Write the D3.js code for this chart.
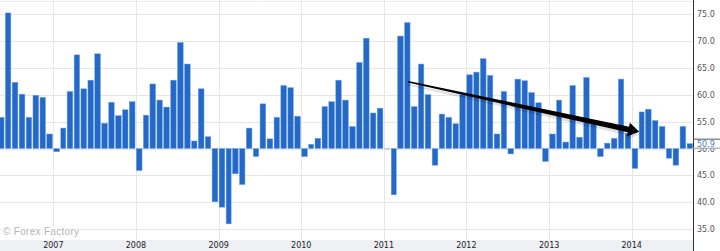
<!DOCTYPE html>
<html>
<head>
<meta charset="utf-8">
<script src="https://cdn.jsdelivr.net/npm/d3@7"></script>
<style>
  body { margin: 0; background: #fff; }
  svg { display: block; }
  text { font-family: "DejaVu Sans", sans-serif; }
</style>
</head>
<body>
<script>
// monthly readings, first bar is May 2006
var startYear = 2006, startMonth = 4;
var values = [
  55.8, 75.2, 62.3, 60.1, 55.8, 59.9, 59.5, 52.7,
  49.4, 53.8, 60.6, 67.4, 61.1, 62.7, 67.6, 54.7, 58.6, 56.1, 57.2, 58.7,
  45.9, 56.2, 62.0, 59.0, 57.7, 62.7, 69.7, 65.7, 51.4, 61.1, 52.2, 40.1,
  39.1, 36.0, 45.3, 43.3, 53.8, 48.5, 58.3, 51.8, 55.8, 61.7, 61.3, 56.0,
  48.5, 50.8, 51.9, 57.8, 58.7, 62.7, 59.0, 54.1, 66.0, 70.5, 56.6, 57.5,
  50.0, 41.4, 70.9, 73.4, 57.8, 65.7, 60.0, 46.9, 56.4, 55.8, 54.6, 60.0,
  63.7, 64.2, 66.7, 63.6, 52.7, 60.6, 49.0, 62.9, 62.6, 60.4, 58.5, 47.6,
  52.7, 59.0, 51.2, 61.7, 52.1, 63.2, 54.9, 48.5, 51.0, 51.9, 62.9, 52.8,
  46.3, 56.8, 57.3, 55.2, 54.1, 48.2, 46.9, 54.1, 50.9
];
var yTicks = [35, 40, 45, 50, 55, 60, 65, 70, 75];
var years = [2007, 2008, 2009, 2010, 2011, 2012, 2013, 2014];
var baseValue = 50;
var lastLabel = "50.9";
// trend arrow drawn on the chart: [date, value]
var arrowFrom = [new Date(2011, 3, 18), 62.4];
var arrowTo = [new Date(2014, 1, 3), 53.1];

var W = 720, H = 251,
    plotW = 693, plotH = 240;

var data = values.map(function(v, i) {
  return { date: new Date(startYear, startMonth + i, 1), next: new Date(startYear, startMonth + i + 1, 1), value: v };
});

var x = d3.scaleTime()
    .domain([new Date(2006, 4, 10), new Date(2014, 8, 29)])
    .range([0, plotW]);
var y = d3.scaleLinear().domain([33, 77.6]).range([plotH, 0]);

var svg = d3.select("body").append("svg")
    .attr("width", W)
    .attr("height", H);

// bottom band for year labels
svg.append("rect")
    .attr("x", 0).attr("y", plotH)
    .attr("width", plotW).attr("height", H - plotH)
    .attr("fill", "#eef0f4");

// grid
svg.append("line")
    .attr("x1", 0).attr("x2", plotW).attr("y1", 1.5).attr("y2", 1.5)
    .attr("stroke", "#ececec");
svg.append("g").selectAll("line")
    .data(yTicks)
    .enter().append("line")
    .attr("x1", 0).attr("x2", plotW)
    .attr("y1", function(d) { return Math.round(y(d)) + 0.5; })
    .attr("y2", function(d) { return Math.round(y(d)) + 0.5; })
    .attr("stroke", "#e6e6e6");
svg.append("g").selectAll("line")
    .data(years)
    .enter().append("line")
    .attr("x1", function(d) { return Math.round(x(new Date(d, 0, 1))) + 0.5; })
    .attr("x2", function(d) { return Math.round(x(new Date(d, 0, 1))) + 0.5; })
    .attr("y1", 0).attr("y2", plotH)
    .attr("stroke", "#e6e6e6");

// copyright
svg.append("text")
    .attr("x", 3).attr("y", 235)
    .style("font-family", "Liberation Sans, Arial, sans-serif")
    .style("font-size", "10px")
    .style("letter-spacing", "0.3px")
    .attr("fill", "#b4b4b4")
    .attr("stroke", "#fff").attr("stroke-width", 3)
    .style("paint-order", "stroke")
    .text("\u00a9 Forex Factory");

// bars, up or down from the base value
svg.append("g").selectAll("rect")
    .data(data)
    .enter().append("rect")
    .attr("x", function(d) { return x(d.date) + 0.4; })
    .attr("width", function(d) { return x(d.next) - x(d.date) - 1.3; })
    .attr("y", function(d) { return d.value == baseValue ? y(baseValue) - 0.5 : y(Math.max(d.value, baseValue)); })
    .attr("height", function(d) { return d.value == baseValue ? 1.5 : Math.abs(y(d.value) - y(baseValue)); })
    .attr("fill", function(d) { return d.value == baseValue ? "#c4c8cc" : "#2468c8"; })
    .attr("stroke", function(d) { return d.value == baseValue ? "none" : "#6ea3e4"; })
    .attr("stroke-width", 0.5);

// trend arrow
function arrowPath(dx) {
  var x0 = x(arrowFrom[0]), y0 = y(arrowFrom[1]) + dx,
      x1 = x(arrowTo[0]), y1 = y(arrowTo[1]) + dx;
  var len = Math.sqrt((x1 - x0) * (x1 - x0) + (y1 - y0) * (y1 - y0));
  var ux = (x1 - x0) / len, uy = (y1 - y0) / len, nx = -uy, ny = ux;
  var headL = 11, headW = 7, w0 = 0.8, w1 = 2.8;
  var bx = x1 - ux * headL, by = y1 - uy * headL;
  var pts = [
    [x0 + nx * w0, y0 + ny * w0],
    [bx + nx * w1, by + ny * w1],
    [bx + nx * headW, by + ny * headW],
    [x1, y1],
    [bx - nx * headW, by - ny * headW],
    [bx - nx * w1, by - ny * w1],
    [x0 - nx * w0, y0 - ny * w0]
  ];
  return "M" + pts.map(function(p) { return p[0].toFixed(1) + "," + p[1].toFixed(1); }).join("L") + "Z";
}
svg.append("path")
    .attr("d", arrowPath(3))
    .attr("fill", "#000")
    .attr("opacity", 0.12);
svg.append("path")
    .attr("d", arrowPath(0))
    .attr("fill", "#000");

// right axis
svg.append("line")
    .attr("x1", plotW + 0.5).attr("x2", plotW + 0.5)
    .attr("y1", 0).attr("y2", H)
    .attr("stroke", "#333");
svg.append("g").selectAll("text")
    .data(yTicks)
    .enter().append("text")
    .attr("x", plotW + 4)
    .attr("y", function(d) { return y(d) + 3; })
    .style("font-size", "8px")
    .attr("fill", "#555")
    .text(function(d) { return d3.format(".1f")(d); });

// last value marker
var lastY = y(values[values.length - 1]);
svg.append("rect")
    .attr("x", plotW + 1).attr("y", lastY - 4.5)
    .attr("width", W - plotW - 1).attr("height", 9)
    .attr("fill", "#fff");
svg.append("line")
    .attr("x1", plotW).attr("x2", W)
    .attr("y1", lastY - 4.5).attr("y2", lastY - 4.5)
    .attr("stroke", "#555");
svg.append("line")
    .attr("x1", plotW).attr("x2", W)
    .attr("y1", lastY + 4.5).attr("y2", lastY + 4.5)
    .attr("stroke", "#999");
svg.append("text")
    .attr("x", plotW + 4)
    .attr("y", lastY + 3)
    .style("font-size", "8px")
    .attr("fill", "#3d7bd0")
    .text(lastLabel);

// year labels
svg.append("g").selectAll("text")
    .data(years)
    .enter().append("text")
    .attr("x", function(d) { return x(new Date(d, 0, 1)); })
    .attr("y", 248)
    .attr("text-anchor", "middle")
    .style("font-size", "8px")
    .attr("fill", "#222")
    .text(function(d) { return d; });
</script>
</body>
</html>
